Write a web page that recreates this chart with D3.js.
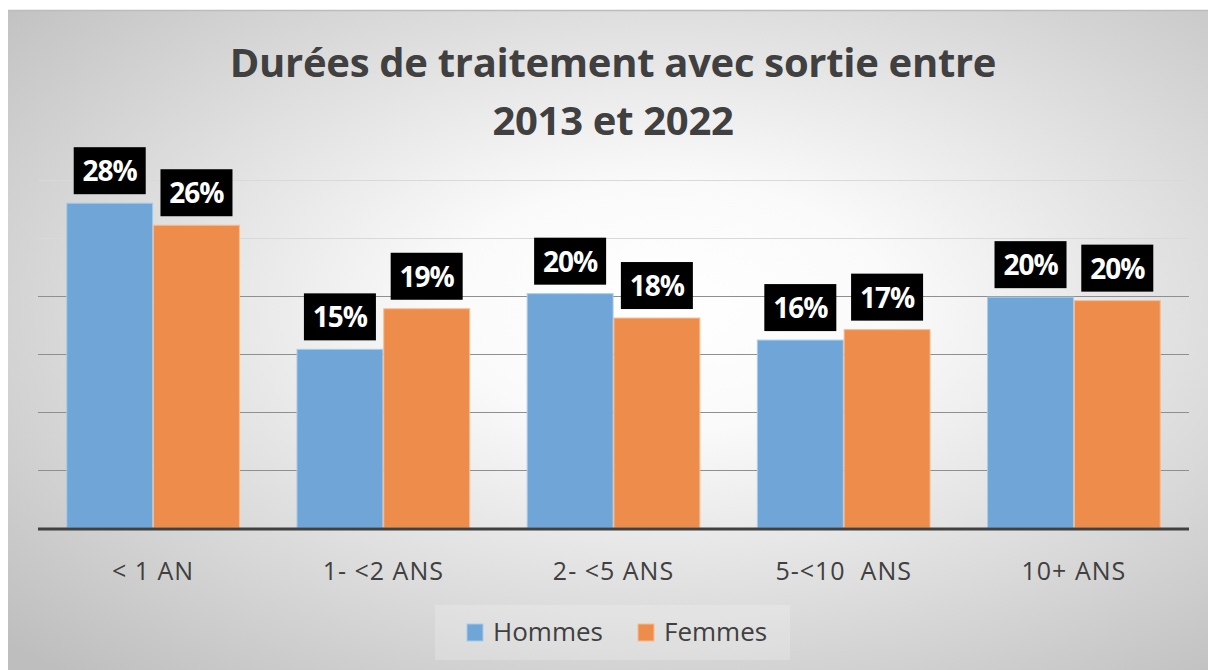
<!DOCTYPE html>
<html>
<head>
<meta charset="utf-8">
<script src="https://cdn.jsdelivr.net/npm/d3@7"></script>
<style>
  body { margin: 0; background: #fff; }
  svg { display: block; font-family: "Open Sans", Lato, sans-serif; }
</style>
</head>
<body>
<svg id="chart" width="1208" height="670"></svg>
<script>
// ── Data ──
const categories = ["< 1 AN", "1- <2 ANS", "2- <5 ANS", "5-<10  ANS", "10+ ANS"];
const seriesNames = ["Hommes", "Femmes"];
const hommes = [28.0, 15.4, 20.2, 16.2, 19.9];
const femmes = [26.1, 18.9, 18.1, 17.1, 19.6];
const colors = ["#6fa5d7", "#ee8d4b"];
const yTicks = [0, 5, 10, 15, 20, 25, 30];

const W = 1208, H = 670;
const svg = d3.select("#chart");

// ── Background gradient ──
const defs = svg.append("defs");
const grad = defs.append("radialGradient")
  .attr("id", "bg").attr("cx", "55%").attr("cy", "45%").attr("r", "75%");
grad.append("stop").attr("offset", "0%").attr("stop-color", "#ffffff");
grad.append("stop").attr("offset", "25%").attr("stop-color", "#fafafa");
grad.append("stop").attr("offset", "100%").attr("stop-color", "#bebebe");

svg.append("rect")
  .attr("x", 8).attr("y", 10).attr("width", W - 8).attr("height", H - 10)
  .attr("fill", "url(#bg)");
svg.append("line")
  .attr("x1", 8).attr("x2", W).attr("y1", 10.5).attr("y2", 10.5)
  .attr("stroke", "#bcbcbc").attr("stroke-width", 1.5);

// ── Scales ──
const plot = { left: 38, right: 1189, top: 180, bottom: 528 };
const x0 = d3.scaleBand().domain(categories)
  .range([plot.left, plot.right]).paddingInner(0.25).paddingOuter(0.125);
const x1 = d3.scaleBand().domain(seriesNames)
  .range([0, x0.bandwidth()]).paddingInner(0.01);
const y = d3.scaleLinear().domain([0, 30]).range([plot.bottom, plot.top]);

// ── Gridlines ──
svg.append("g")
  .selectAll("line")
  .data(yTicks.filter(d => d > 0))
  .join("line")
  .attr("x1", plot.left).attr("x2", plot.right)
  .attr("y1", d => Math.round(y(d)) + 0.5).attr("y2", d => Math.round(y(d)) + 0.5)
  .attr("stroke", d => d >= 25 ? "#d9d9d9" : "#8f8f8f")
  .attr("stroke-width", 1);

// ── Bars ──
const rows = categories.map((c, i) => ({ cat: c, vals: [hommes[i], femmes[i]] }));
const groups = svg.append("g").selectAll("g")
  .data(rows).join("g")
  .attr("transform", d => `translate(${x0(d.cat)},0)`);

groups.selectAll("rect")
  .data(d => d.vals.map((v, j) => ({ v, s: seriesNames[j], j })))
  .join("rect")
  .attr("x", d => x1(d.s))
  .attr("y", d => y(d.v))
  .attr("width", x1.bandwidth())
  .attr("height", d => y(0) - y(d.v))
  .attr("fill", d => colors[d.j])
  .attr("stroke", d => d.j === 0 ? "#a9cbea" : "#f6bc92")
  .attr("stroke-width", 1);

// ── Data labels ──
const lab = groups.selectAll("g.lab")
  .data(d => d.vals.map((v, j) => ({ v, s: seriesNames[j], j })))
  .join("g").attr("class", "lab")
  .attr("transform", d => `translate(${x1(d.s) + x1.bandwidth() / 2},${y(d.v) - 9})`);
lab.append("rect")
  .attr("x", -36).attr("y", -47).attr("width", 72).attr("height", 47)
  .attr("fill", "#000");
lab.append("text")
  .attr("y", -13).attr("text-anchor", "middle")
  .attr("fill", "#fff").attr("font-weight", "bold").attr("font-size", 28)
  .attr("letter-spacing", -1)
  .text(d => Math.round(d.v) + "%");

// ── Axis line ──
svg.append("line")
  .attr("x1", plot.left).attr("x2", plot.right)
  .attr("y1", plot.bottom + 1).attr("y2", plot.bottom + 1)
  .attr("stroke", "#404040").attr("stroke-width", 3);

// ── Category labels ──
svg.append("g").selectAll("text")
  .data(categories).join("text")
  .attr("x", d => x0(d) + x0.bandwidth() / 2)
  .attr("y", 580)
  .attr("text-anchor", "middle")
  .attr("fill", "#404040").attr("font-size", 25)
  .attr("letter-spacing", 1)
  .style("white-space", "pre")
  .text(d => d);

// ── Title ──
const title = svg.append("text")
  .attr("text-anchor", "middle").attr("fill", "#404040")
  .attr("font-weight", "bold").attr("font-size", 40)
  .attr("letter-spacing", -0.3);
title.append("tspan").attr("x", 613).attr("y", 77).text("Durées de traitement avec sortie entre");
title.append("tspan").attr("x", 613).attr("y", 135).text("2013 et 2022");

// ── Legend ──
svg.append("rect")
  .attr("x", 435).attr("y", 605).attr("width", 355).attr("height", 55)
  .attr("fill", "#ffffff").attr("opacity", 0.2);
const legend = svg.append("g").selectAll("g")
  .data(seriesNames).join("g")
  .attr("transform", (d, i) => `translate(${[467, 638][i]},632)`);
legend.append("rect")
  .attr("x", 0).attr("y", -8).attr("width", 16).attr("height", 17)
  .attr("fill", (d, i) => colors[i])
  .attr("stroke", (d, i) => i === 0 ? "#a9cbea" : "#f6bc92");
legend.append("text")
  .attr("x", 26).attr("y", 9)
  .attr("fill", "#404040").attr("font-size", 26)
  .text(d => d);
</script>
</body>
</html>
